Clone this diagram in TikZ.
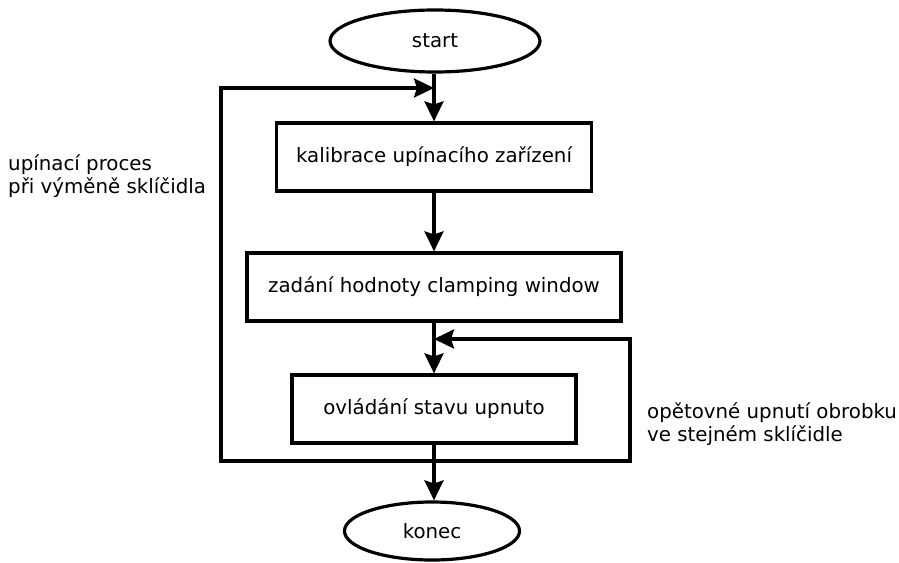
\documentclass[tikz,border=0pt]{standalone}
\usepackage{fontspec}
\setmainfont{DejaVu Sans}
\usetikzlibrary{shapes.geometric,arrows.meta}
\begin{document}
\begin{tikzpicture}[x=1pt,y=-1pt,
  every node/.style={font=\fontsize{19.8}{23}\selectfont},
  terminal/.style={ellipse,draw,line width=3.2pt,inner sep=0pt},
  procbox/.style={rectangle,draw,line width=3.2pt,inner sep=0pt},
  flow/.style={line width=3.2pt,line join=miter,-{Stealth[length=20pt,width=19pt,inset=3pt]}},
  note/.style={align=left,inner sep=0pt,anchor=north west}]
\useasboundingbox (0,0) rectangle (899,562);
\node[terminal,minimum width=210pt,minimum height=62pt] (start) at (435,41) {start};
\node[procbox,minimum width=315pt,minimum height=68pt] (b1) at (434,157) {kalibrace upínacího zařízení};
\node[procbox,minimum width=374pt,minimum height=68pt] (b2) at (434,287) {zadání hodnoty clamping window};
\node[procbox,minimum width=284pt,minimum height=68pt] (b3) at (434,409) {ovládání stavu upnuto};
\node[terminal,minimum width=175pt,minimum height=58pt] (end) at (432,531) {konec};
\coordinate (jt) at (434,88);
\coordinate (jm) at (434,339);
\coordinate (jb) at (434,461);
\coordinate (lc) at (221,88);
\coordinate (rc) at (630,339);
\draw[flow] (start.south -| b1.north) -- (b1.north);
\draw[flow] (b1) -- (b2);
\draw[flow] (b2) -- (b3);
\draw[flow] (b3.south) -- (end.north -| b3.south);
\draw[flow] (jb) -| (lc) -- (jt);
\draw[flow] (jb) -| (rc) -- (jm);
\node[note] (ln) at (8,154) {upínací proces\\při výměně sklíčidla};
\node[note] (rn) at (647,402) {opětovné upnutí obrobku\\ve stejném sklíčidle};
\end{tikzpicture}
\end{document}
